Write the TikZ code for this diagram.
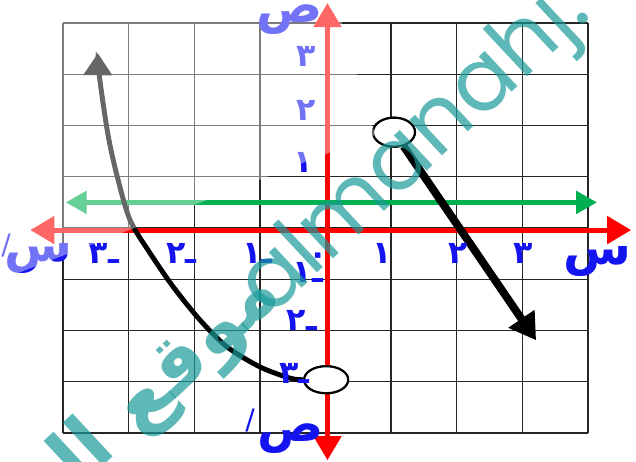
\documentclass[tikz,border=0pt]{standalone}
\usepackage{fontspec}
\usepackage{tikz}
\usetikzlibrary{arrows.meta,shapes.geometric,positioning}
\TeXXeTstate=1
\newfontfamily\arabicfont[Script=Arabic]{DejaVu Sans}
\newfontfamily\markfont{Poppins}
\definecolor{axisRed}{HTML}{FF0000}
\definecolor{lineGreen}{HTML}{00B050}
\definecolor{labelBlue}{HTML}{1414F0}
\definecolor{markTeal}{HTML}{1A9A9A}
\newcommand{\artxt}[1]{\beginR #1\endR}

\begin{document}
\begin{tikzpicture}[
    x=1.312cm, y=1.025cm,
    gridline/.style={black!85, line width=0.8pt},
    axis/.style={axisRed, line width=2.8pt,
                 {Triangle[length=4.8mm,width=5.4mm]}-{Triangle[length=4.8mm,width=5.4mm]}},
    level/.style={lineGreen, line width=3.2pt,
                  {Triangle[length=4.2mm,width=4.4mm]}-{Triangle[length=4.2mm,width=4.4mm]}},
    ray/.style={black, line width=4.5pt, -{Triangle[length=5.2mm,width=6mm]}},
    branch/.style={black, line width=2.8pt, -{Triangle[length=4.4mm,width=5.6mm]}},
    hole/.style={ellipse, draw, fill=white, line width=1.2pt, inner sep=0pt},
    num/.style={text=labelBlue, inner sep=0pt,
                font=\fontsize{18}{20}\selectfont\arabicfont\bfseries},
    axlabel/.style={text=labelBlue, inner sep=0pt,
                    font=\fontsize{28}{30}\selectfont\arabicfont\bfseries},
    prime/.style={text=labelBlue, inner sep=0pt,
                  font=\fontsize{16}{18}\selectfont\arabicfont},
    watermark/.style={rotate=43, text=markTeal, text opacity=0.7, inner sep=0pt},
]
    \clip (-4.962,-4.546) rectangle (4.733,4.449);
    \foreach \i in {-4,...,4} {
        \draw[gridline] (\i,-4) -- (\i,4);
        \draw[gridline] (-4,\i) -- (4,\i);
    }

    \coordinate (xl) at (-4.5,-0.04);
    \coordinate (xr) at (4.66,-0.04);
    \coordinate (yb) at (0.03,-4.53);
    \coordinate (yt) at (0.03,4.39);
    \draw[axis] (xl) -- (xr);
    \draw[axis] (yb) -- (yt);

    \coordinate (gl) at (-3.96,0.5);
    \coordinate (gr) at (4.14,0.5);
    \draw[level] (gl) -- (gr);

    \node[hole, minimum width=0.88cm, minimum height=0.54cm] (low) at (0.01,-2.96) {};
    \node[hole, minimum width=0.84cm, minimum height=0.58cm] (up) at (1.044,1.87) {};
    \coordinate (curvetip) at (-3.47,3.41);
    \coordinate (raytip) at (3.21,-2.19);
    \draw[branch] plot[smooth] coordinates {(low.west) (-0.54,-2.93) (-1.0,-2.71)
        (-1.5,-2.32) (-1.91,-1.8) (-2.32,-1.15) (-2.675,-0.49) (-2.98,0.156)
        (-3.18,1.03) (-3.32,1.85) (-3.45,2.99) (curvetip)};
    \draw[ray] (up) -- (raytip);
    \node[hole, minimum width=0.88cm, minimum height=0.54cm] at (low) {};
    \node[hole, minimum width=0.84cm, minimum height=0.58cm] at (up) {};

    \node[num] (x1) at (0.86,-0.49) {\artxt{١}};
    \node[num] (x2) at (2.02,-0.49) {\artxt{٢}};
    \node[num] (x3) at (3.01,-0.49) {\artxt{٣}};
    \node[num] (xm1) at (-1.04,-0.5) {\artxt{ـ١}};
    \node[num] (xm2) at (-2.2,-0.5) {\artxt{ـ٢}};
    \node[num] (xm3) at (-3.38,-0.5) {\artxt{ـ٣}};
    \node[num] (y1) at (-0.34,1.27) {\artxt{١}};
    \node[num] (y2) at (-0.3,2.3) {\artxt{٢}};
    \node[num] (y3) at (-0.3,3.34) {\artxt{٣}};
    \node[num] (ym1) at (-0.27,-0.86) {\artxt{ـ١}};
    \node[num] (ym2) at (-0.36,-1.8) {\artxt{ـ٢}};
    \node[num] (ym3) at (-0.47,-2.83) {\artxt{ـ٣}};
    \node[num] (zero) at (-0.11,-0.59) {\artxt{٠}};

    \node[axlabel] (sright) at (4.14,-0.66) {\artxt{س}};
    \node[axlabel] (sleft) at (-4.38,-0.59) {\artxt{س}};
    \node[prime] (sprime) at (-4.87,-0.35) {/};
    \node[axlabel] (stop) at (-0.54,4.07) {\artxt{ص}};
    \node[axlabel] (sbot) at (-0.53,-4.1) {\artxt{ص}};
    \node[prime] (bprime) at (-1.15,-3.75) {/};

    \fill[white, opacity=0.4] (-4.962,4.449) -- (0.145,4.449) -- (0.755,1.815)
        -- (-4.962,-1.015) -- cycle;

    \node[watermark, font=\fontsize{50}{54}\selectfont\markfont] (site) at (1.38,1.5)
          {almanahj.};
    \node[watermark, anchor=east, font=\fontsize{44}{48}\selectfont\arabicfont\bfseries]
          (sitear) at (-0.84,-1.08) {\artxt{موقع المناهج}};
\end{tikzpicture}
\end{document}
